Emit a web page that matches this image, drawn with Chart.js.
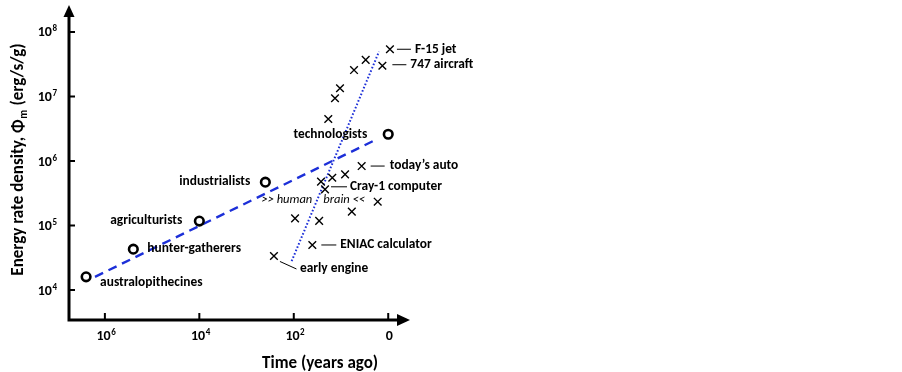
<!DOCTYPE html>
<html>
<head>
<meta charset="utf-8">
<script src="https://cdn.jsdelivr.net/npm/chart.js@4.4.1/dist/chart.umd.min.js"></script>
<style>
  html, body { margin: 0; padding: 0; background: #fff; }
  #wrap { width: 902px; height: 372px; position: relative; }
</style>
</head>
<body>
<div id="wrap"><canvas id="chart" width="902" height="372"></canvas></div>
<script>
// Societies (circles) — years ago vs energy rate density (erg/s/g); "today" is plotted at 1 year
const societyNames = ['australopithecines', 'hunter-gatherers', 'agriculturists', 'industrialists', 'technologists'];
const societyYears = [2.5e6, 2.5e5, 1.0e4, 400, 1];
const societyPhi = [1.6e4, 4.3e4, 1.17e5, 4.7e5, 2.6e6];

// Machines (crosses)
const machineNames = ['F-15 jet', '747 aircraft', '', '', '', '', '', "today\u2019s auto", '', '', '', 'Cray-1 computer', '', '', '', '', 'ENIAC calculator', 'early engine'];
const machineYears = [0.92, 1.33, 3.0, 5.3, 10.5, 13.4, 18.6, 3.65, 8.2, 15.3, 26.5, 21.8, 1.67, 5.9, 94, 29, 40.5, 263];
const machinePhi = [5.4e7, 3.0e7, 3.7e7, 2.57e7, 1.34e7, 9.4e6, 4.48e6, 8.35e5, 6.2e5, 5.5e5, 4.78e5, 3.64e5, 2.34e5, 1.64e5, 1.29e5, 1.18e5, 4.99e4, 3.37e4];

// Fitted trends
const societyFitYears = [1.62e6, 1.75];
const societyFitPhi = [1.6e4, 2.17e6];
const machineFitYears = [111, 1.57];
const machineFitPhi = [2.8e4, 4.95e7];

// Human brain level
const brainPhi = 2.5e5;

// Axes
const xTickValues = [1e6, 1e4, 1e2, 1];
const xTickBase = ['10', '10', '10', '0'];
const xTickExp = ['6', '4', '2', ''];
const yTickValues = [1e4, 1e5, 1e6, 1e7, 1e8];
const yTickExp = ['4', '5', '6', '7', '8'];
const xRange = [Math.pow(10, -0.44), Math.pow(10, 6.76)];
const yRange = [Math.pow(10, 3.535), Math.pow(10, 8.186)];

const FONT = 'Carlito';
const BLUE = '#1c2fd8';

const toPoints = (xs, ys) => xs.map((x, i) => ({ x, y: ys[i] }));

// label placement relative to each marker: [dx, dy, align]
const societyLabelPos = [
  [14, 6, 'left'], [14, 0, 'left'], [-17, 0, 'right'], [-15, 0, 'right'], [-21, 0, 'right'],
];
const machineLabelPos = {
  'F-15 jet': { line: [7, 0, 21, 0], text: [25, 0] },
  '747 aircraft': { line: [10, -1, 24, -1], text: [28, -1] },
  "today\u2019s auto": { line: [9, 0, 23, 0], text: [28, 0] },
  'Cray-1 computer': { line: [6, -2.5, 22, -2.5], text: [25, -2.5] },
  'ENIAC calculator': { line: [9, 0, 24, 0], text: [28, 0] },
  'early engine': { line: [6, 5.5, 22.5, 13], text: [26, 13] },
};

const annotate = {
  id: 'annotate',
  afterDraw(chart) {
    const { ctx, chartArea: a, scales: { x, y } } = chart;
    ctx.save();
    ctx.fillStyle = '#000';
    ctx.strokeStyle = '#000';

    // axes with arrows
    ctx.lineWidth = 3;
    ctx.beginPath();
    ctx.moveTo(a.left, a.bottom + 1.5);
    ctx.lineTo(a.left, a.top - 4);
    ctx.moveTo(a.left - 1.5, a.bottom);
    ctx.lineTo(a.right - 10, a.bottom);
    ctx.stroke();
    ctx.beginPath();
    ctx.moveTo(a.left, a.top - 15);
    ctx.lineTo(a.left - 5.5, a.top - 3);
    ctx.lineTo(a.left + 5.5, a.top - 3);
    ctx.closePath();
    ctx.fill();
    ctx.beginPath();
    ctx.moveTo(a.right + 1, a.bottom);
    ctx.lineTo(a.right - 12, a.bottom - 6);
    ctx.lineTo(a.right - 12, a.bottom + 6);
    ctx.closePath();
    ctx.fill();

    // ticks
    ctx.lineWidth = 2;
    ctx.beginPath();
    yTickValues.forEach(v => {
      const py = y.getPixelForValue(v);
      ctx.moveTo(a.left, py);
      ctx.lineTo(a.left + 6, py);
    });
    xTickValues.forEach(v => {
      const px = x.getPixelForValue(v);
      ctx.moveTo(px, a.bottom);
      ctx.lineTo(px, a.bottom - 7);
    });
    ctx.stroke();

    // tick labels
    ctx.textBaseline = 'alphabetic';
    yTickValues.forEach((v, i) => {
      const py = y.getPixelForValue(v);
      ctx.font = `bold 9px ${FONT}`;
      const we = ctx.measureText(yTickExp[i]).width;
      ctx.textAlign = 'right';
      ctx.fillText(yTickExp[i], a.left - 12, py - 0.5);
      ctx.font = `bold 14px ${FONT}`;
      ctx.fillText('10', a.left - 12 - we - 0.5, py + 4.5);
    });
    xTickValues.forEach((v, i) => {
      const px = x.getPixelForValue(v);
      ctx.font = `bold 14px ${FONT}`;
      const wb = ctx.measureText(xTickBase[i]).width;
      ctx.font = `bold 9px ${FONT}`;
      const we = ctx.measureText(xTickExp[i]).width;
      const left = px - (wb + we) / 2 + 1;
      ctx.textAlign = 'left';
      ctx.font = `bold 14px ${FONT}`;
      ctx.fillText(xTickBase[i], left, a.bottom + 20);
      ctx.font = `bold 9px ${FONT}`;
      ctx.fillText(xTickExp[i], left + wb + 0.5, a.bottom + 14.5);
    });

    // axis titles
    ctx.font = `bold 17px ${FONT}`;
    ctx.textAlign = 'center';
    ctx.fillText('Time (years ago)', 320, 368);

    ctx.save();
    ctx.translate(23, 160);
    ctx.rotate(-Math.PI / 2);
    const t1 = 'Energy rate density, \u03A6';
    const t2 = 'm';
    const t3 = ' (erg/s/g)';
    ctx.font = `bold 17px ${FONT}`;
    const w1 = ctx.measureText(t1).width;
    const w3 = ctx.measureText(t3).width;
    ctx.font = `bold 11px ${FONT}`;
    const w2 = ctx.measureText(t2).width;
    const sx = -(w1 + w2 + w3) / 2;
    ctx.textAlign = 'left';
    ctx.font = `bold 17px ${FONT}`;
    ctx.fillText(t1, sx, 0);
    ctx.font = `bold 11px ${FONT}`;
    ctx.fillText(t2, sx + w1 + 0.5, 4);
    ctx.font = `bold 17px ${FONT}`;
    ctx.fillText(t3, sx + w1 + w2 + 1, 0);
    ctx.restore();

    // society labels
    ctx.font = `bold 13.4px ${FONT}`;
    ctx.textBaseline = 'middle';
    societyNames.forEach((name, i) => {
      const px = x.getPixelForValue(societyYears[i]);
      const py = y.getPixelForValue(societyPhi[i]);
      const [dx, dy, align] = societyLabelPos[i];
      ctx.textAlign = align;
      ctx.fillText(name, px + dx, py + dy);
    });

    // machine labels with leader lines
    ctx.lineWidth = 1;
    ctx.textAlign = 'left';
    machineNames.forEach((name, i) => {
      if (!name) return;
      const pos = machineLabelPos[name];
      const px = x.getPixelForValue(machineYears[i]);
      const py = y.getPixelForValue(machinePhi[i]);
      ctx.beginPath();
      ctx.moveTo(px + pos.line[0], py + pos.line[1]);
      ctx.lineTo(px + pos.line[2], py + pos.line[3]);
      ctx.stroke();
      ctx.fillText(name, px + pos.text[0], py + pos.text[1]);
    });

    // human brain marker text, either side of the machine trend
    const by = y.getPixelForValue(brainPhi);
    const bx = x.getPixelForValue(21);
    ctx.font = `italic 12.5px ${FONT}`;
    ctx.textAlign = 'right';
    ctx.fillText('>> human', bx - 13.5, by);
    ctx.textAlign = 'left';
    ctx.fillText('brain <<', bx - 2.5, by);

    ctx.restore();
  },
};

new Chart(document.getElementById('chart'), {
  type: 'scatter',
  data: {
    datasets: [
      {
        label: 'societies',
        data: toPoints(societyYears, societyPhi),
        pointStyle: 'circle',
        pointRadius: 4.3,
        pointBorderWidth: 2.6,
        pointBorderColor: '#000',
        pointBackgroundColor: '#fff',
        order: 1,
      },
      {
        label: 'machines',
        data: toPoints(machineYears, machinePhi),
        pointStyle: 'crossRot',
        pointRadius: 5.4,
        pointBorderWidth: 1.4,
        pointBorderColor: '#000',
        order: 1,
      },
      {
        label: 'society trend',
        data: toPoints(societyFitYears, societyFitPhi),
        showLine: true,
        borderColor: BLUE,
        borderWidth: 2.4,
        borderDash: [9, 6],
        pointRadius: 0,
        order: 2,
      },
      {
        label: 'machine trend',
        data: toPoints(machineFitYears, machineFitPhi),
        showLine: true,
        borderColor: BLUE,
        borderWidth: 2,
        borderDash: [1.6, 2],
        pointRadius: 0,
        order: 2,
      },
    ],
  },
  options: {
    responsive: false,
    animation: false,
    devicePixelRatio: 1,
    layout: { padding: { left: 69, top: 20, right: 493, bottom: 52 } },
    plugins: { legend: { display: false }, tooltip: { enabled: false } },
    scales: {
      x: {
        type: 'logarithmic',
        reverse: true,
        bounds: 'data',
        min: xRange[0],
        max: xRange[1],
        display: false,
      },
      y: {
        type: 'logarithmic',
        bounds: 'data',
        min: yRange[0],
        max: yRange[1],
        display: false,
      },
    },
  },
  plugins: [annotate],
});
</script>
</body>
</html>
